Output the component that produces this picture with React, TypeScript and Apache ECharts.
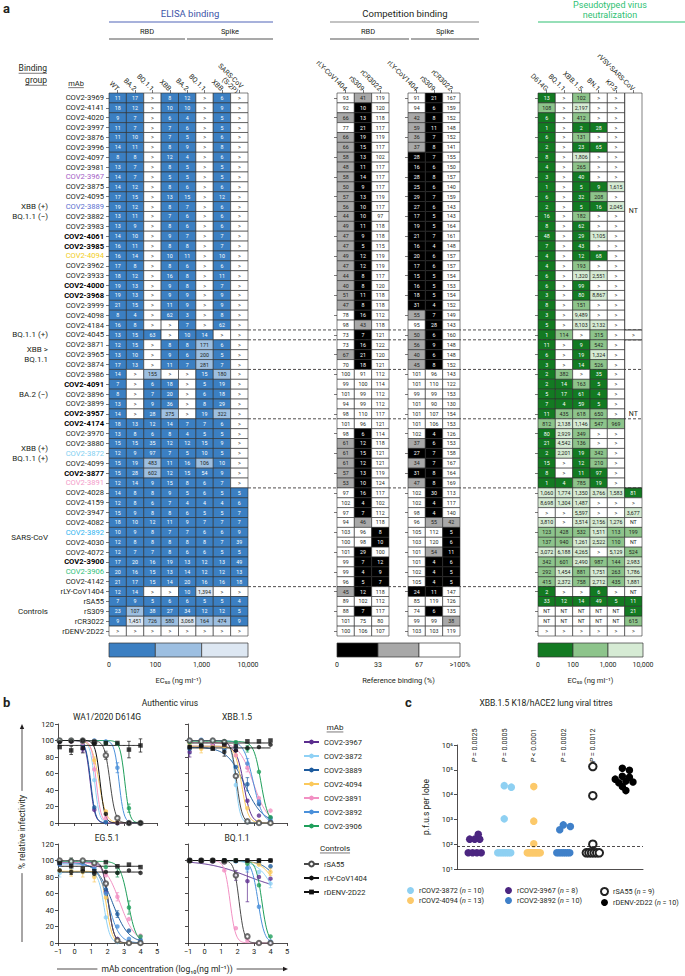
import React, { useEffect, useRef } from 'react';
import * as echarts from 'echarts';

const FONT = 'Roboto, "Noto Sans", "DejaVu Sans", sans-serif';
const INK = '#231f20';

/* ---------------- panel a: antibodies and binding groups ---------------- */
const MABS = [
  'COV2-3969', 'COV2-4141', 'COV2-4020', 'COV2-3997', 'COV2-3876', 'COV2-3996', 'COV2-4097', 'COV2-3981', 'COV2-3967', 'COV2-3875',
  'COV2-4095', 'COV2-3889', 'COV2-3882', 'COV2-3983', 'COV2-4061', 'COV2-3985', 'COV2-4094', 'COV2-3962', 'COV2-3933', 'COV2-4000',
  'COV2-3968', 'COV2-3999', 'COV2-4098', 'COV2-4184', 'COV2-4045', 'COV2-3871', 'COV2-3965', 'COV2-3874', 'COV2-3986', 'COV2-4091',
  'COV2-3896', 'COV2-3899', 'COV2-3957', 'COV2-4174', 'COV2-3970', 'COV2-3880', 'COV2-3872', 'COV2-4099', 'COV2-3877', 'COV2-3891',
  'COV2-4028', 'COV2-4159', 'COV2-3947', 'COV2-4082', 'COV2-3892', 'COV2-4030', 'COV2-4072', 'COV2-3900', 'COV2-3906', 'COV2-4142',
  'rLY-CoV1404', 'rSA55', 'rS309', 'rCR3022', 'rDENV-2D22',
];
const ROW_BOLD = ['COV2-4061', 'COV2-3985', 'COV2-4000', 'COV2-3968', 'COV2-4091', 'COV2-3957', 'COV2-4174', 'COV2-3877', 'COV2-3900'];
const ROW_TONE: Record<string, string> = {
  'COV2-3967': 'purple', 'COV2-3889': 'blue', 'COV2-4094': 'gold', 'COV2-3872': 'sky',
  'COV2-3891': 'pink', 'COV2-3892': 'azure', 'COV2-3906': 'green',
};
const GROUPS = [
  { label: 'XBB (+)\nBQ.1.1 (−)', first: 0, last: 23 },
  { label: 'BQ.1.1 (+)', first: 24, last: 24 },
  { label: 'XBB >\nBQ.1.1', first: 25, last: 27 },
  { label: 'BA.2 (−)', first: 28, last: 32 },
  { label: 'XBB (+)\nBQ.1.1 (+)', first: 33, last: 39 },
  { label: 'SARS-CoV', first: 40, last: 49 },
  { label: 'Controls', first: 50, last: 54 },
];

const ELISA_COLS = ['WT', 'BA.2', 'BQ.1.1', 'XBB', 'BA.2 ', 'BQ.1.1 ', 'XBB ', 'SARS-CoV\n(S-2P)'];
const COMP_COLS = ['rLY-CoV1404', 'rS309', 'rCR3022'];
const NEUT_COLS = ['D614G', 'BQ.1.1', 'XBB.1.5', 'BN.1', 'KP.3', 'rVSV-SARS-CoV'];

// ELISA EC50 (ng/ml); '>' = above 10,000
const ELISA = [
  '11 17 > 8 12 > 6 >', '18 12 > 10 10 > 9 >', '9 7 > 6 4 > 5 >', '11 7 > 7 6 > 5 >', '11 10 > 7 5 > 6 >',
  '14 11 > 8 9 > 8 >', '8 8 > 12 4 > 6 >', '13 7 > 8 5 > 5 >', '14 7 > 5 5 > 5 >', '14 12 > 8 6 > 6 >',
  '17 15 > 13 15 > 12 >', '19 12 > 8 7 > 6 >', '13 11 > 7 6 > 6 >', '13 9 > 8 6 > 6 >', '14 10 > 9 7 > 7 >',
  '16 11 > 8 8 > 7 >', '16 14 > 10 11 > 10 >', '17 8 > 8 6 > 6 >', '18 12 > 16 8 > 11 >', '19 13 > 9 8 > 7 >',
  '19 13 > 9 9 > 9 >', '21 15 > 11 9 > 9 >', '8 4 > 62 3 > 8 >', '16 8 > > 7 > 62 >', '13 15 63 > 10 14 > >',
  '12 15 > 8 8 171 6 >', '13 10 > 9 6 200 5 >', '17 13 > 11 7 281 7 >', '14 > 155 > > 15 180 >', '7 > 6 18 > 5 19 >',
  '8 > 7 20 > 6 18 >', '13 > 9 36 > 8 29 >', '14 > 28 375 > 19 322 >', '18 13 12 14 7 7 6 >', '13 8 6 8 4 5 5 >',
  '15 15 35 12 12 15 9 >', '12 9 97 7 5 10 5 >', '15 19 483 11 16 106 10 >', '15 28 602 12 15 54 9 >', '12 14 9 15 8 6 7 >',
  '14 8 8 9 5 6 5 5', '12 8 6 7 4 4 4 6', '15 9 8 8 6 5 5 7', '18 10 12 11 9 7 7 7', '10 9 8 7 7 6 6 9',
  '12 8 8 8 8 8 7 39', '12 7 7 8 6 6 5 5', '17 20 16 19 13 12 13 49', '20 16 15 13 14 12 12 13', '21 17 15 14 20 16 16 18',
  '12 14 > > 10 1,394 > >', '7 9 5 6 6 5 5 4', '23 107 38 27 34 12 12 5', '9 1,451 726 580 3,068 164 474 9', '> > > > > > > >',
];

// competition binding, % of reference binding (RBD block)
const COMP_RBD = [
  '93 41 119', '92 10 120', '66 13 118', '77 21 117', '66 19 119', '66 15 117', '58 13 102', '48 11 117', '58 14 117', '50 9 117',
  '57 13 119', '56 10 117', '44 10 97', '49 11 118', '47 9 118', '47 5 115', '49 12 119', '47 12 119', '44 8 117', '40 8 120',
  '51 11 118', '47 8 118', '78 16 112', '98 43 118', '73 7 121', '73 16 122', '67 21 120', '70 18 121', '100 91 112', '99 100 114',
  '101 99 112', '94 99 112', '98 110 117', '101 96 121', '98 6 114', '61 12 118', '61 15 121', '61 12 121', '57 13 119', '53 10 124',
  '97 16 117', '102 4 102', '97 7 112', '94 46 118', '103 96 8', '100 98 10', '101 29 100', '99 7 12', '99 4 9', '96 5 7',
  '45 12 118', '89 102 112', '88 7 117', '101 75 80', '100 106 107',
];
// competition binding, % of reference binding (spike block)
const COMP_SPIKE = [
  '91 21 167', '94 6 159', '42 8 152', '59 11 148', '36 7 152', '37 8 141', '28 7 155', '16 6 150', '28 8 157', '25 6 140',
  '29 7 159', '27 6 143', '17 5 143', '19 5 164', '21 7 161', '16 4 148', '20 6 157', '17 6 157', '15 5 154', '16 5 153',
  '18 5 154', '31 4 152', '55 7 149', '95 28 143', '50 6 160', '56 9 148', '40 6 148', '45 8 152', '101 96 143', '101 110 122',
  '99 99 153', '101 90 130', '101 107 154', '101 106 153', '102 4 126', '37 6 153', '27 7 158', '34 7 167', '31 8 164', '47 8 169',
  '102 30 113', '102 4 117', '98 4 140', '96 55 42', '105 112 5', '103 120 6', '101 54 11', '101 4 6', '102 4 5', '105 4 5',
  '24 11 147', '85 119 126', '74 6 135', '99 99 38', '103 103 119',
];

// pseudovirus EC50 (ng/ml); '-' marks cells covered by a merged 'NT' block
const NEUT = [
  '13 > 102 > > -', '108 > 2,197 > > -', '6 > 412 > > -', '1 > 2 28 > -', '6 > 131 > > -',
  '2 > 23 65 > -', '8 > 1,806 > > -', '4 > 265 > > -', '3 > 40 > > -', '1 > 5 9 1,615 -',
  '6 > 32 208 > -', '2 > 5 16 2,045 -', '16 > 182 > > -', '8 > 62 > > -', '48 > 29 1,105 > -',
  '7 > 43 > > -', '4 > 12 68 > -', '4 > 193 > > -', '6 > 1,320 2,551 > -', '6 > 99 > > -',
  '3 > 80 8,867 > -', '8 > 151 > > -', '3 > 9,489 > > -', '5 > 8,103 2,132 > -', '1 114 > 315 > >',
  '11 > 9 542 > -', '6 > 19 1,324 > -', '3 > 14 526 > -', '2 382 > 35 > -', '2 14 163 5 > -',
  '5 17 61 4 > -', '7 4 59 5 > -', '11 435 618 650 > -', '812 2,138 1,146 547 969 -', '80 2,929 349 > > -',
  '21 4,542 136 > > -', '2 2,201 19 342 > -', '15 > 12 210 > -', '8 > 11 97 > -', '1 4 785 19 > -',
  '1,060 1,774 1,350 3,766 1,583 81', '8,698 1,304 1,487 > > >', '> > 5,597 > > 3,677', '3,810 > 3,514 2,156 1,276 NT', '123 428 532 1,511 113 199',
  '137 940 1,261 2,522 110 NT', '3,072 6,188 4,265 > 5,129 524', '342 601 2,490 987 144 2,983', '292 1,454 881 1,751 263 1,786', '415 2,372 758 2,712 435 1,881',
  '2 > > 6 > NT', '33 12 14 49 5 11', 'NT NT NT NT NT 21', 'NT NT NT NT NT 615', '> > > > > >',
];
const NEUT_MERGED = [
  { col: 5, first: 0, last: 23, text: 'NT' },
  { col: 5, first: 25, last: 39, text: 'NT' },
];
const SEPARATORS_AFTER = [23, 24, 27, 32, 39, 49];

const EC50_KEY = ['0', '100', '1,000', '10,000'];
const COMP_KEY = ['0', '33', '67', '>100%'];
const ELISA_SHADES = ['#3b7fc2', '#9dbfe1', '#dde7f2'];
const COMP_SHADES = ['#000000', '#a8a8a8', '#ffffff'];
const NEUT_SHADES = ['#137a22', '#8dc48b', '#d6ebd4'];

/* ---------------- panel b: authentic virus neutralization ---------------- */
const VIRUSES = ['WA1/2020 D614G', 'XBB.1.5', 'EG.5.1', 'BQ.1.1'];
const B_MABS = ['COV2-3967', 'COV2-3872', 'COV2-3889', 'COV2-4094', 'COV2-3891', 'COV2-3892', 'COV2-3906'];
const B_CONTROLS = ['rSA55', 'rLY-CoV1404', 'rDENV-2D22'];
const B_ALL = [...B_MABS, ...B_CONTROLS];
const LOG_CONC = [-0.9, -0.2, 0.5, 1.2, 1.9, 2.6, 3.3, 4.0];
// % relative infectivity at LOG_CONC, one row per antibody in B_ALL order
const D614G_PTS = [
  [100, 99, 90, 16, 1, 0, 0, 0], [100, 100, 98, 52, 2, 0, 0, 0], [99, 100, 95, 19, 1, 0, 0, 0], [100, 100, 99, 76, 14, 1, 0, 0],
  [100, 99, 97, 65, 6, 0, 0, 0], [100, 100, 100, 100, 99, 67, 0, 0], [100, 100, 99, 98, 97, 96, 18, 0],
  [100, 100, 100, 98, 82, 6, 0, 0], [98, 99, 100, 96, 11, 0, 0, 0], [92, 88, 91, 98, 97, 97, 89, 94],
];
const XBB15_PTS = [
  [86, 92, 95, 95, 88, 27, 9, 2], [100, 99, 100, 99, 46, 1, 0, 0], [90, 93, 91, 89, 68, 47, 23, 6], [97, 90, 92, 93, 82, 18, 2, 0],
  [99, 98, 97, 95, 82, 67, 30, 15], [100, 101, 100, 97, 92, 72, 26, 3], [98, 97, 99, 99, 98, 90, 62, 7],
  [100, 99, 100, 98, 57, 2, 0, 0], [92, 94, 91, 86, 88, 91, 92, 95], [92, 93, 90, 95, 93, 99, 99, 100],
];
const EG51_PTS = [
  [96, 98, 99, 95, 62, 5, 0, 0], [85, 88, 86, 82, 31, 1, 0, 0], [97, 99, 98, 92, 65, 35, 15, 4], [88, 87, 86, 80, 55, 3, 0, 0],
  [100, 98, 97, 94, 82, 56, 29, 9], [95, 97, 96, 90, 60, 20, 5, 2], [99, 100, 99, 98, 92, 85, 43, 8],
  [100, 99, 100, 97, 72, 3, 0, 0], [88, 86, 87, 84, 86, 85, 88, 85], [97, 93, 90, 87, 98, 93, 95, 92],
];
const BQ11_PTS = [
  [100, 99, 99, 98, 82, 75, 80, 78], [100, 100, 100, 100, 99, 90, 86, 72], [100, 100, 99, 100, 100, 99, 97, 93], [100, 100, 100, 99, 100, 98, 95, 86],
  [100, 100, 99, 88, 18, 3, 0, 0], [100, 100, 100, 100, 99, 91, 44, 2], [100, 100, 100, 100, 100, 96, 70, 8],
  [100, 100, 100, 99, 82, 8, 0, 0], [100, 100, 100, 100, 100, 100, 100, 100], [100, 100, 100, 100, 100, 100, 100, 100],
];
// fitted dose-response parameters: [top, bottom, log10 IC50, Hill slope]
const D614G_FIT = [[100, 0, 0.95, 3], [100, 0, 1.22, 3], [100, 0, 0.98, 3], [100, 0, 1.48, 2], [100, 0, 1.32, 3], [100, 0, 2.7, 3], [100, 0, 3.05, 3], [100, 0, 2.15, 2.6], [100, 0, 1.55, 3], [94, 94, 0, 1]];
const XBB15_FIT = [[93, 0, 2.38, 2], [100, 0, 1.88, 3], [92, 0, 2.45, 0.8], [93, 0, 2.25, 2.2], [98, 0, 2.95, 1], [100, 0, 2.95, 1.5], [99, 0, 3.42, 2], [100, 0, 1.95, 2.6], [91, 91, 0, 1], [97, 97, 0, 1]];
const EG51_FIT = [[98, 0, 2.05, 2.5], [86, 0, 1.8, 2.5], [98, 0, 2.3, 0.9], [87, 0, 1.95, 2.5], [98, 0, 2.75, 0.95], [96, 0, 2.05, 1.3], [99, 0, 3.25, 1.8], [100, 0, 2.05, 2.5], [86, 86, 0, 1], [93, 93, 0, 1]];
const BQ11_FIT = [[100, 62, 2.6, 0.35], [100, 0, 4.5, 0.8], [100, 0, 5, 0.8], [100, 0, 4.7, 0.9], [100, 0, 1.55, 2.6], [100, 0, 3.25, 2.2], [100, 0, 3.48, 2.4], [100, 0, 2.1, 2.8], [100, 100, 0, 1], [100, 100, 0, 1]];
// error bars (s.d.): [antibody, concentration index, s.d.]
const D614G_SD: [string, number, number][] = [
  ['rDENV-2D22', 1, 5], ['rDENV-2D22', 2, 6], ['rDENV-2D22', 6, 10], ['rDENV-2D22', 7, 8], ['rSA55', 4, 5],
  ['COV2-3892', 5, 6], ['COV2-3906', 6, 5], ['COV2-4094', 3, 4], ['COV2-3967', 2, 4],
];
const XBB15_SD: [string, number, number][] = [
  ['COV2-3889', 0, 6], ['COV2-3967', 0, 6], ['COV2-4094', 1, 5], ['COV2-3889', 5, 8], ['COV2-3892', 5, 6],
  ['COV2-3891', 5, 5], ['rDENV-2D22', 4, 6], ['COV2-3906', 5, 4], ['rLY-CoV1404', 3, 5],
];
const EG51_SD: [string, number, number][] = [
  ['COV2-3872', 0, 5], ['COV2-4094', 1, 6], ['COV2-4094', 2, 6], ['COV2-4094', 3, 6], ['rDENV-2D22', 3, 6],
  ['rDENV-2D22', 1, 10], ['COV2-3891', 5, 5], ['COV2-3906', 6, 8], ['COV2-3906', 5, 5], ['COV2-3889', 5, 4],
];
const BQ11_SD: [string, number, number][] = [
  ['COV2-3967', 5, 25], ['COV2-3967', 4, 6], ['COV2-3872', 7, 5], ['COV2-3892', 5, 5], ['COV2-4094', 7, 4],
];
const B_PTS = [D614G_PTS, XBB15_PTS, EG51_PTS, BQ11_PTS];
const B_FITS = [D614G_FIT, XBB15_FIT, EG51_FIT, BQ11_FIT];
const B_SDS = [D614G_SD, XBB15_SD, EG51_SD, BQ11_SD];
const B_COLORS: Record<string, string> = {
  'COV2-3967': '#5b2d8e', 'COV2-3872': '#8fd1f5', 'COV2-3889': '#1d5b9e', 'COV2-4094': '#fbc95b',
  'COV2-3891': '#f290c3', 'COV2-3892': '#4a90da', 'COV2-3906': '#1f9f5b',
  'rSA55': '#4a4a4a', 'rLY-CoV1404': '#111111', 'rDENV-2D22': '#111111',
};

/* ---------------- panel c: lung viral titres ---------------- */
const C_GROUPS = ['rCOV2-3967', 'rCOV2-3872', 'rCOV2-4094', 'rCOV2-3892', 'rSA55', 'rDENV-2D22'];
const C_N = [8, 10, 13, 10, 9, 10];
const C_COLORS = ['#4b2580', '#8ed0f2', '#fcc96a', '#3f80c9', '#222222', '#000000'];
const C_PVALUES = ['P = 0.0025', 'P = 0.0005', 'P < 0.0001', 'P = 0.0002', 'P = 0.0012'];
const C_LOD = 85;
// p.f.u. per lobe for each animal
const C_3967 = [250, 160, 160, 160, 45, 45, 45, 45];
const C_3872 = [23000, 20000, 1050, 45, 45, 45, 45, 45, 45, 45];
const C_4094 = [21000, 850, 105, 45, 45, 45, 45, 45, 45, 45, 45, 45, 45];
const C_3892 = [600, 520, 380, 45, 45, 45, 45, 45, 45, 45];
const C_SA55 = [135000, 9000, 100, 45, 45, 45, 45, 45, 45];
const C_DENV = [115000, 95000, 55000, 50000, 42000, 35000, 32000, 30000, 21000, 14500];
const C_TITRES = [C_3967, C_3872, C_4094, C_3892, C_SA55, C_DENV];

/* ---------------- helpers ---------------- */
type Cell = { col: number; row: number; rowEnd: number; text: string; fill: string; ink: string };
const num = (s: string) => Number(s.replace(/,/g, ''));

const ec50Shade = (shades: string[]) => (s: string) => {
  if (s === '>' || s === 'NT') return ['#ffffff', INK];
  const v = num(s);
  if (v < 100) return [shades[0], '#ffffff'];
  if (v < 1000) return [shades[1], INK];
  return [shades[2], INK];
};
const compShade = (s: string) => {
  const v = num(s);
  if (v <= 33) return [COMP_SHADES[0], '#ffffff'];
  if (v <= 67) return [COMP_SHADES[1], INK];
  return [COMP_SHADES[2], INK];
};

function buildCells(rows: string[], shade: (s: string) => string[]): Cell[] {
  const out: Cell[] = [];
  rows.forEach((line, r) =>
    line.split(' ').forEach((t, c) => {
      if (t === '-') return;
      const [fill, ink] = shade(t);
      out.push({ col: c, row: r, rowEnd: r, text: t, fill, ink });
    }),
  );
  return out;
}

function cellSeries(axis: number, cells: Cell[], fontSize: number) {
  return {
    type: 'custom',
    xAxisIndex: axis,
    yAxisIndex: axis,
    silent: true,
    z: 3,
    data: cells.map((c) => [c.col, c.row, c.rowEnd]),
    encode: { x: 0, y: [1, 2] },
    renderItem: (params: any, api: any) => {
      const c = cells[params.dataIndex];
      const p0 = api.coord([api.value(0), api.value(1)]);
      const p1 = api.coord([api.value(0), api.value(2)]);
      const sz = api.size([1, 1]);
      const w = sz[0];
      const h = sz[1];
      const top = Math.min(p0[1], p1[1]) - h / 2;
      const height = Math.abs(p1[1] - p0[1]) + h;
      const left = p0[0] - w / 2;
      return {
        type: 'group',
        children: [
          { type: 'rect', shape: { x: left, y: top, width: w, height }, style: { fill: c.fill, stroke: '#2b2b2b', lineWidth: 0.6 } },
          {
            type: 'text',
            style: {
              text: c.text, x: left + w / 2, y: top + height / 2,
              align: 'center', verticalAlign: 'middle', textAlign: 'center', textVerticalAlign: 'middle',
              fontSize: c.rowEnd > c.row ? 7 : fontSize, fontFamily: FONT, fill: c.ink,
            },
          },
        ],
      };
    },
  };
}

function keySeries(axis: number, shades: string[]) {
  return {
    type: 'custom',
    xAxisIndex: axis,
    yAxisIndex: axis,
    silent: true,
    data: shades.map((_, i) => [i, i + 1, 0, 1]),
    encode: { x: [0, 1], y: [2, 3] },
    renderItem: (params: any, api: any) => {
      const a = api.coord([api.value(0), api.value(3)]);
      const b = api.coord([api.value(1), api.value(2)]);
      return {
        type: 'rect',
        shape: { x: a[0], y: a[1], width: b[0] - a[0], height: b[1] - a[1] },
        style: { fill: shades[params.dataIndex], stroke: '#333', lineWidth: 0.7 },
      };
    },
  };
}

function errorSeries(gi: number, rows: [string, number, number][], pts: number[][]) {
  const colors = rows.map((r) => B_COLORS[r[0]]);
  return {
    type: 'custom',
    xAxisIndex: gi,
    yAxisIndex: gi,
    silent: true,
    z: 2,
    data: rows.map(([name, i, sd]) => {
      const y = pts[B_ALL.indexOf(name)][i];
      return [LOG_CONC[i], y - sd, y + sd];
    }),
    encode: { x: 0, y: [1, 2] },
    renderItem: (params: any, api: any) => {
      const lo = api.coord([api.value(0), api.value(1)]);
      const hi = api.coord([api.value(0), api.value(2)]);
      const style = { stroke: colors[params.dataIndex], lineWidth: 0.7 };
      return {
        type: 'group',
        children: [
          { type: 'line', shape: { x1: lo[0], y1: lo[1], x2: hi[0], y2: hi[1] }, style },
          { type: 'line', shape: { x1: lo[0] - 1.8, y1: lo[1], x2: lo[0] + 1.8, y2: lo[1] }, style },
          { type: 'line', shape: { x1: hi[0] - 1.8, y1: hi[1], x2: hi[0] + 1.8, y2: hi[1] }, style },
        ],
      };
    },
  };
}

function fitCurve(p: number[]) {
  const [top, bottom, ic50, hill] = p;
  const out: number[][] = [];
  for (let i = 0; i <= 100; i++) {
    const x = -1 + i * 0.05;
    out.push([x, bottom + (top - bottom) / (1 + Math.pow(10, (x - ic50) * hill))]);
  }
  return out;
}

// horizontal spread of animals within a group (ties fanned out, others nudged apart)
function swarm(vals: number[]): number[] {
  const offs = vals.map(() => 0);
  const byVal = new Map<number, number[]>();
  vals.forEach((v, i) => byVal.set(v, [...(byVal.get(v) || []), i]));
  const placed: number[][] = [];
  byVal.forEach((idx, v) => {
    if (idx.length < 2) return;
    const w = idx.length > 3 ? 0.22 : 0.17;
    idx.forEach((i, k) => {
      offs[i] = -w + (2 * w * k) / (idx.length - 1);
      placed.push([offs[i], Math.log10(v)]);
    });
  });
  vals
    .map((_, i) => i)
    .filter((i) => byVal.get(vals[i])!.length === 1)
    .sort((a, b) => vals[b] - vals[a])
    .forEach((i) => {
      const ly = Math.log10(vals[i]);
      const cands = [0, 0.12, -0.12, 0.24, -0.24, 0.36, -0.36];
      let best = 0;
      for (const c of cands) {
        if (placed.every(([px, py]) => Math.hypot((px - c) * 29, (py - ly) * 25) >= 5)) { best = c; break; }
      }
      offs[i] = best;
      placed.push([best, ly]);
    });
  return offs;
}

const SUP: Record<string, string> = { '0': '⁰', '1': '¹', '2': '²', '3': '³', '4': '⁴', '5': '⁵', '6': '⁶', '7': '⁷', '8': '⁸', '9': '⁹' };

const ROW_RICH: Record<string, any> = {
  plain: { color: INK },
  bold: { color: '#000', fontWeight: 'bold' },
  purple: { color: '#a45ec6' },
  blue: { color: '#5a6fd0' },
  gold: { color: '#f2cd1a' },
  sky: { color: '#7fd0f2' },
  pink: { color: '#f39bc9' },
  azure: { color: '#2fb4ef' },
  green: { color: '#30c07a' },
};
const rowLabel = (v: string) => {
  const key = ROW_BOLD.includes(v) ? 'bold' : ROW_TONE[v] || 'plain';
  return `{${key}|${v}}`;
};

const ROW_TOP = 93;
const ROW_H = 543;

function colAxis(gi: number, data: string[]) {
  return {
    type: 'category', gridIndex: gi, data, position: 'top',
    axisLine: { show: false },
    axisTick: { show: true, alignWithLabel: true, length: 3, lineStyle: { color: INK, width: 0.6 } },
    axisLabel: { interval: 0, rotate: 45, margin: 3, fontSize: 7, color: INK, formatter: (v: string) => v.trim() },
    splitLine: { show: false },
  };
}
function rowAxis(gi: number, labels: boolean) {
  return {
    type: 'category', gridIndex: gi, data: MABS, inverse: true,
    axisLine: { show: false },
    axisTick: { show: true, alignWithLabel: true, length: 3, lineStyle: { color: INK, width: 0.6 } },
    axisLabel: labels
      ? { show: true, interval: 0, margin: 5, fontSize: 7.6, color: INK, formatter: rowLabel, rich: ROW_RICH }
      : { show: false },
    splitLine: { show: false },
  };
}
const minus = (v: number) => (v < 0 ? '−' + Math.abs(v) : String(v));
function bX(gi: number, labels: boolean) {
  return {
    type: 'value', gridIndex: gi, min: -1, max: 5, interval: 1,
    axisLine: { show: true, onZero: false, lineStyle: { color: INK, width: 0.8 } },
    axisTick: { show: true, length: 3, lineStyle: { color: INK, width: 0.8 } },
    axisLabel: { show: labels, fontSize: 7.5, color: INK, margin: 4, formatter: minus },
    splitLine: { show: false },
  };
}
function bY(gi: number, labels: boolean) {
  return {
    type: 'value', gridIndex: gi, min: 0, max: 120, interval: 20,
    axisLine: { show: true, onZero: false, lineStyle: { color: INK, width: 0.8 } },
    axisTick: { show: true, length: 3, lineStyle: { color: INK, width: 0.8 } },
    axisLabel: { show: labels, fontSize: 7.5, color: INK, margin: 4 },
    splitLine: { show: false },
  };
}
function keyX(gi: number, labels: string[], name: string) {
  return {
    type: 'value', gridIndex: gi, min: 0, max: 3, interval: 1,
    axisLine: { show: false }, axisTick: { show: false }, splitLine: { show: false },
    axisLabel: { fontSize: 7, color: INK, margin: 4, showMinLabel: true, showMaxLabel: true, formatter: (v: number) => labels[v] },
    name, nameLocation: 'middle', nameGap: 19, nameTextStyle: { fontSize: 7.5, color: INK },
  };
}
function keyY(gi: number) {
  return { type: 'value', gridIndex: gi, min: 0, max: 1, show: false };
}

function buildOption() {
  const grid = [
    { left: 109, top: ROW_TOP, width: 139, height: ROW_H },
    { left: 337, top: ROW_TOP, width: 52, height: ROW_H },
    { left: 408, top: ROW_TOP, width: 52, height: ROW_H },
    { left: 538, top: ROW_TOP, width: 104, height: ROW_H },
    { left: 58, top: 724, width: 99, height: 99 },
    { left: 188, top: 724, width: 99, height: 99 },
    { left: 58, top: 844, width: 99, height: 99 },
    { left: 188, top: 844, width: 99, height: 99 },
    { left: 457, top: 745, width: 186, height: 124 },
    { left: 109, top: 643, width: 139, height: 14 },
    { left: 337, top: 643, width: 123, height: 14 },
    { left: 538, top: 643, width: 105, height: 14 },
  ];
  const xAxis: any[] = [colAxis(0, ELISA_COLS), colAxis(1, COMP_COLS), colAxis(2, COMP_COLS), colAxis(3, NEUT_COLS)];
  const yAxis: any[] = [rowAxis(0, true), rowAxis(1, false), rowAxis(2, false), rowAxis(3, false)];
  [0, 1, 2, 3].forEach((i) => {
    xAxis.push(bX(4 + i, i >= 2));
    yAxis.push(bY(4 + i, i % 2 === 0));
  });
  xAxis.push({
    type: 'value', gridIndex: 8, min: -0.6, max: 5.7,
    axisLine: { show: true, onZero: false, lineStyle: { color: INK, width: 0.8 } },
    axisTick: { show: false }, axisLabel: { show: false }, splitLine: { show: false },
  });
  yAxis.push({
    type: 'log', logBase: 10, gridIndex: 8, min: 10, max: 1e6,
    axisLine: { show: true, onZero: false, lineStyle: { color: INK, width: 0.8 } },
    axisTick: { show: true, length: 3, lineStyle: { color: INK, width: 0.8 } },
    minorTick: { show: false }, splitLine: { show: false },
    axisLabel: { fontSize: 7.5, color: INK, margin: 4, formatter: (v: number) => '10' + SUP[String(Math.round(Math.log10(v)))] },
  });
  xAxis.push(keyX(9, EC50_KEY, 'EC₅₀ (ng ml⁻¹)'), keyX(10, COMP_KEY, 'Reference binding (%)'), keyX(11, EC50_KEY, 'EC₅₀ (ng ml⁻¹)'));
  yAxis.push(keyY(9), keyY(10), keyY(11));

  const neutCells = buildCells(NEUT, ec50Shade(NEUT_SHADES));
  NEUT_MERGED.forEach((m) => neutCells.push({ col: m.col, row: m.first, rowEnd: m.last, text: m.text, fill: 'none', ink: INK }));

  const series: any[] = [
    cellSeries(0, buildCells(ELISA, ec50Shade(ELISA_SHADES)), 5.3),
    cellSeries(1, buildCells(COMP_RBD, compShade), 5.3),
    cellSeries(2, buildCells(COMP_SPIKE, compShade), 5.3),
    cellSeries(3, neutCells, 5.3),
    keySeries(9, ELISA_SHADES),
    keySeries(10, COMP_SHADES),
    keySeries(11, NEUT_SHADES),
  ];

  VIRUSES.forEach((_, vi) => {
    const gi = 4 + vi;
    series.push(errorSeries(gi, B_SDS[vi], B_PTS[vi]));
    B_ALL.forEach((name, k) => {
      const color = B_COLORS[name];
      const symbol = name === 'rSA55' ? 'emptyCircle' : name === 'rDENV-2D22' ? 'rect' : 'circle';
      series.push({
        type: 'line', name, xAxisIndex: gi, yAxisIndex: gi, silent: true,
        data: fitCurve(B_FITS[vi][k]), showSymbol: false, symbol, symbolSize: 5,
        lineStyle: { color, width: 1 }, itemStyle: { color }, z: 3,
      });
      series.push({
        type: 'scatter', name, xAxisIndex: gi, yAxisIndex: gi, silent: true,
        data: LOG_CONC.map((x, i) => [x, B_PTS[vi][k][i]]), symbol, symbolSize: 4.5,
        itemStyle: { color, borderColor: color, borderWidth: symbol === 'emptyCircle' ? 0.9 : 0 }, z: 4,
      });
    });
  });

  const cNames = C_GROUPS.map((g, i) => `${g} (n = ${C_N[i]})`);
  C_GROUPS.forEach((g, gi) => {
    const vals = C_TITRES[gi];
    const offs = swarm(vals);
    const open = g === 'rSA55';
    series.push({
      type: 'scatter', name: cNames[gi], xAxisIndex: 8, yAxisIndex: 8, silent: true,
      data: vals.map((v, i) => [gi + offs[i], v]),
      symbol: open ? 'emptyCircle' : 'circle', symbolSize: 7.5,
      itemStyle: { color: C_COLORS[gi], borderColor: C_COLORS[gi], borderWidth: open ? 0.9 : 0, opacity: 1 },
      z: 4,
      markLine: gi === 0
        ? { silent: true, symbol: 'none', label: { show: false }, lineStyle: { type: [3, 2], color: INK, width: 0.8 }, data: [{ yAxis: C_LOD }] }
        : undefined,
    });
  });

  const legendText = { fontSize: 7.5, color: INK, fontFamily: FONT };
  const cLegendFmt = (n: string) => n.replace('(n', '({i|n}');
  const cLegendText = { fontSize: 7.2, color: INK, fontFamily: FONT, rich: { i: { fontStyle: 'italic', fontSize: 7.2, color: INK, fontFamily: FONT } } };
  const legend = [
    { data: B_MABS, orient: 'vertical', left: 298, top: 733, itemWidth: 15, itemHeight: 6, itemGap: 6, selectedMode: false, textStyle: legendText },
    { data: B_CONTROLS, orient: 'vertical', left: 298, top: 855, itemWidth: 15, itemHeight: 6, itemGap: 6, selectedMode: false, textStyle: legendText },
    { data: [cNames[1], cNames[2]], orient: 'vertical', left: 402, top: 882, itemWidth: 7, itemHeight: 7, itemGap: 3, selectedMode: false, formatter: cLegendFmt, textStyle: cLegendText },
    { data: [cNames[0], cNames[3]], orient: 'vertical', left: 500, top: 882, itemWidth: 7, itemHeight: 7, itemGap: 3, selectedMode: false, formatter: cLegendFmt, textStyle: cLegendText },
    { data: [cNames[4], cNames[5]], orient: 'vertical', left: 595, top: 882, itemWidth: 7, itemHeight: 7, itemGap: 3, selectedMode: false, formatter: cLegendFmt, textStyle: cLegendText },
  ];

  return { animation: false, backgroundColor: '#ffffff', textStyle: { fontFamily: FONT }, grid, xAxis, yAxis, legend, series };
}

/* ---------------- annotations placed from the axes ---------------- */
function measure(t: string, size: number, weight = 'normal') {
  const ctx = document.createElement('canvas').getContext('2d');
  if (!ctx) return t.length * size * 0.55;
  ctx.font = `${weight} ${size}px Roboto, "Noto Sans", sans-serif`;
  return ctx.measureText(t).width;
}
function txt(x: number, y: number, text: string, o: any = {}) {
  const style: any = {
    text, x: 0, y: 0, fill: o.color || INK, fontSize: o.size || 8, fontFamily: FONT,
    fontWeight: o.weight || 'normal', fontStyle: 'normal',
    align: o.align || 'center', verticalAlign: o.va || 'middle',
    textAlign: o.align || 'center', textVerticalAlign: o.va || 'middle',
  };
  if (o.rich) style.rich = o.rich;
  if (o.lineHeight) style.lineHeight = o.lineHeight;
  return { type: 'text', x, y, rotation: o.rotation || 0, z: 10, silent: true, style };
}
function ln(x1: number, y1: number, x2: number, y2: number, color = INK, width = 0.8, dash?: number[], z = 10) {
  const style: any = { stroke: color, lineWidth: width };
  if (dash) style.lineDash = dash;
  return { type: 'line', silent: true, z, shape: { x1, y1, x2, y2 }, style };
}
function arrow(x: number, y: number, dir: 'up' | 'right') {
  const pts = dir === 'up' ? [[x, y], [x - 2.2, y + 5], [x + 2.2, y + 5]] : [[x, y], [x - 5, y - 2.2], [x - 5, y + 2.2]];
  return { type: 'polygon', silent: true, z: 10, shape: { points: pts }, style: { fill: INK } };
}
function underlined(x: number, y: number, text: string, size: number, align: 'center' | 'right') {
  const w = measure(text, size);
  const x0 = align === 'center' ? x - w / 2 : x - w;
  return [txt(x, y, text, { size, align }), ln(x0, y + size * 0.62, x0 + w, y + size * 0.62, INK, 0.6)];
}

function overlay(chart: any) {
  const rowY = (r: number) => (chart.convertToPixel({ gridIndex: 0 }, [0, r]) as number[])[1];
  const els: any[] = [];

  // panel a headers
  els.push(txt(3, 8, 'a', { size: 13, weight: 'bold', align: 'left' }));
  els.push(txt(190, 13, 'ELISA binding', { size: 9.5, color: '#3d55a8' }));
  els.push(ln(109, 22, 273, 22, '#5065b8', 1.2));
  els.push(txt(147, 31.5, 'RBD', { size: 7.5 }), txt(230, 31.5, 'Spike', { size: 7.5 }));
  els.push(ln(109, 39, 185, 39, '#8c8c8c', 1.5), ln(187, 39, 273, 39, '#8c8c8c', 1.5));
  els.push(txt(405, 13, 'Competition binding', { size: 9.5 }));
  els.push(ln(330, 22, 479, 22, '#888', 1.2));
  els.push(txt(368, 31.5, 'RBD', { size: 7.5 }), txt(445, 31.5, 'Spike', { size: 7.5 }));
  els.push(ln(330, 39, 409, 39, '#8c8c8c', 1.5), ln(411, 39, 479, 39, '#8c8c8c', 1.5));
  els.push(txt(610, 5, 'Pseudotyped virus', { size: 9, color: '#2fbf73' }), txt(610, 15, 'neutralization', { size: 9, color: '#2fbf73' }));
  els.push(ln(538, 22, 685, 22, '#2fbf73', 1.2));
  els.push(...underlined(47, 68, 'Binding', 8.5, 'right'), ...underlined(47, 80, 'group', 8.5, 'right'));
  els.push(...underlined(76, 83, 'mAb', 7.5, 'center'));

  // binding-group labels beside their rows
  GROUPS.forEach((g) => {
    const y = (rowY(g.first) + rowY(g.last)) / 2;
    const pitch = Math.abs(rowY(1) - rowY(0));
    els.push(txt(48, y, g.label, { size: 8, align: 'right', lineHeight: pitch + 0.5 }));
  });
  // dashed separators between groups
  SEPARATORS_AFTER.forEach((r) => {
    const y = (rowY(r) + rowY(r + 1)) / 2;
    els.push(ln(248, y, 642, y, INK, 0.8, [3, 2], 1));
  });

  // panel b
  els.push(txt(3, 702, 'b', { size: 13, weight: 'bold', align: 'left' }));
  els.push(txt(170, 703, 'Authentic virus', { size: 8.5 }));
  els.push(txt(107, 717, VIRUSES[0], { size: 8.5 }), txt(237, 717, VIRUSES[1], { size: 8.5 }));
  els.push(txt(107, 838, VIRUSES[2], { size: 8.5 }), txt(237, 838, VIRUSES[3], { size: 8.5 }));
  const yTitle = '% relative infectivity';
  const yw = measure(yTitle, 8.5) / 2 + 4;
  els.push(txt(22, 832, yTitle, { size: 8.5, rotation: Math.PI / 2 }));
  els.push(ln(22, 942, 22, 832 + yw), ln(22, 832 - yw, 22, 728), arrow(22, 724, 'up'));
  const xTitle = 'mAb concentration (log₁₀(ng ml⁻¹))';
  const xw = measure(xTitle, 8.5) / 2 + 4;
  els.push(txt(167, 969, xTitle, { size: 8.5 }));
  els.push(ln(57, 969, 167 - xw, 969), ln(167 + xw, 969, 284, 969), arrow(288, 969, 'right'));
  els.push(...underlined(335, 727, 'mAb', 8, 'center'), ...underlined(335, 848, 'Controls', 8, 'center'));

  // panel c
  els.push(txt(405, 702, 'c', { size: 13, weight: 'bold', align: 'left' }));
  els.push(txt(546, 703, 'XBB.1.5 K18/hACE2 lung viral titres', { size: 8.5 }));
  els.push(txt(426, 807, 'p.f.u.s per lobe', { size: 8.5, rotation: Math.PI / 2 }));
  C_PVALUES.forEach((p, i) => {
    const [x, y] = chart.convertToPixel({ gridIndex: 8 }, [i, 2e5]) as number[];
    els.push(txt(x, y, p.replace(/^P/, '{i|P}'), {
      size: 7.2, align: 'left', rotation: Math.PI / 2,
      rich: { i: { fontStyle: 'italic', fontSize: 7.2, fontFamily: FONT, fill: INK, color: INK } },
    }));
  });

  return { elements: els };
}

export default function App() {
  const ref = useRef<HTMLDivElement>(null);
  useEffect(() => {
    if (!ref.current) return;
    const chart = echarts.init(ref.current, undefined, { renderer: 'svg' });
    chart.setOption(buildOption() as any);
    chart.setOption({ graphic: overlay(chart) } as any);
    return () => chart.dispose();
  }, []);
  return <div ref={ref} style={{ position: 'absolute', left: 0, top: 0, width: 685, height: 976, background: '#fff' }} />;
}
